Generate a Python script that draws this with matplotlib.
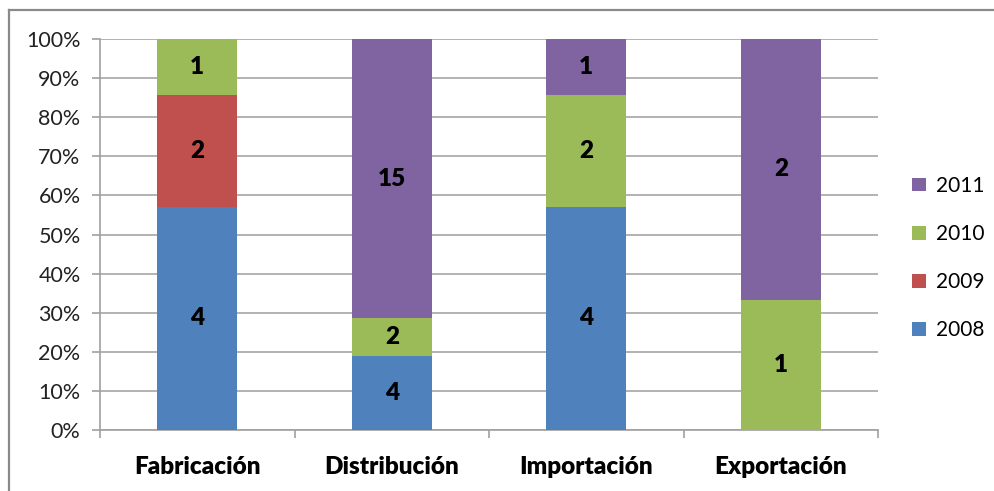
import matplotlib.pyplot as plt
from matplotlib.lines import Line2D
import numpy as np

categories = ['Fabricación', 'Distribución', 'Importación', 'Exportación']
years = ['2008', '2009', '2010', '2011']
counts = {
    '2008': [4, 4, 4, 0],
    '2009': [2, 0, 0, 0],
    '2010': [1, 2, 2, 1],
    '2011': [0, 15, 1, 2],
}
colors = {'2008': '#4F81BD', '2009': '#C0504D', '2010': '#9BBB59', '2011': '#8064A2'}

plt.rcParams['font.family'] = ['Lato', 'DejaVu Sans']

totals = np.sum([counts[y] for y in years], axis=0)
x = np.arange(len(categories))

fig = plt.figure(figsize=(9.95, 4.91), dpi=100)
ax = fig.add_axes([0.1005, 0.1242, 0.782, 0.7964])

bottom = np.zeros(len(categories))
bars = {}
for y in years:
    vals = np.array(counts[y], dtype=float)
    share = vals / totals * 100
    bars[y] = ax.bar(x, share, 0.41, bottom=bottom, color=colors[y], label=y, zorder=3)
    for xi, v, s, b in zip(x, vals, share, bottom):
        if v > 0:
            ax.text(xi, b + s / 2, f'{int(v)}', ha='center', va='center',
                    fontsize=17.5, fontweight='heavy', color='black', zorder=4)
    bottom += share

ax.set_xlim(-0.5, 3.5)
ax.set_ylim(0, 100)
ax.set_yticks(np.arange(0, 101, 10))
ax.set_yticklabels([f'{v}%' for v in range(0, 101, 10)], fontsize=15.5, color='#222222')
ax.yaxis.grid(True, color='#A6A6A6', linewidth=1.2, zorder=0)

ax.set_xticks(x)
ax.set_xticklabels(categories, fontsize=17.5, fontweight='heavy')
ax.set_xticks(np.arange(-0.5, 4, 1), minor=True)
ax.tick_params(axis='x', which='major', length=0, pad=19)
ax.tick_params(axis='x', which='minor', length=6, color='#A0A0A0', width=1.2)
ax.tick_params(axis='y', length=6, color='#A0A0A0', width=1.2, pad=8)

for side in ['top', 'right']:
    ax.spines[side].set_visible(False)
for side in ['left', 'bottom']:
    ax.spines[side].set_color('#A0A0A0')
    ax.spines[side].set_linewidth(1.2)

handles = [bars[y] for y in reversed(years)]
ax.legend(handles, list(reversed(years)), loc='center left', bbox_to_anchor=(1.02, 0.44),
          frameon=False, fontsize=15, handlelength=0.65, handleheight=0.65,
          handletextpad=0.5, labelspacing=1.35)

# outer chart frame
fig.add_artist(Line2D([0.009, 1], [0.979, 0.979], transform=fig.transFigure,
                      color='#8A8A8A', linewidth=1.6))
fig.add_artist(Line2D([0.009, 0.009], [0, 0.979], transform=fig.transFigure,
                      color='#8A8A8A', linewidth=1.6))

fig.savefig('out.png', dpi=100)
